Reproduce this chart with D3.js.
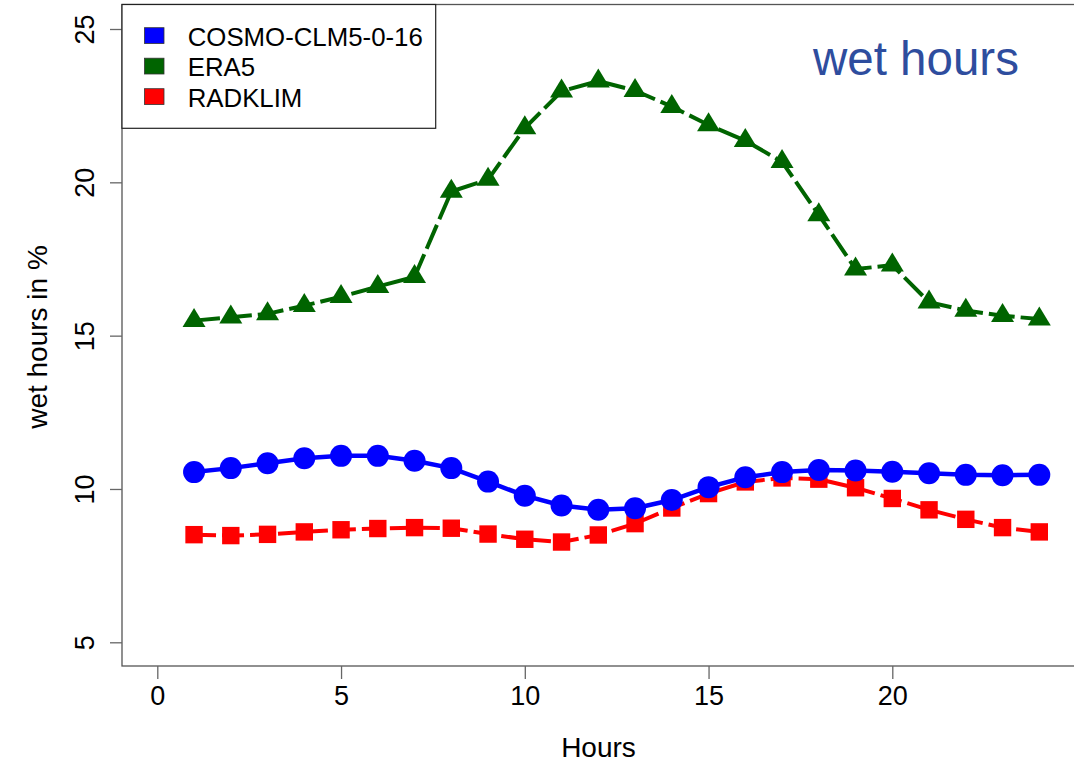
<!DOCTYPE html>
<html><head><meta charset="utf-8">
<script src="https://cdn.jsdelivr.net/npm/d3@7"></script>
<style>body{margin:0;background:#fff}svg{display:block;font-family:"Liberation Sans",Arial,sans-serif}</style>
</head><body>
<script>
const hours = [1,2,3,4,5,6,7,8,9,10,11,12,13,14,15,16,17,18,19,20,21,22,23,24];
const cosmo = [10.55,10.68,10.84,11.0,11.08,11.08,10.92,10.68,10.24,9.78,9.46,9.32,9.37,9.64,10.06,10.38,10.55,10.62,10.60,10.56,10.51,10.46,10.45,10.46];
const era5 = [15.49,15.60,15.71,15.98,16.27,16.60,16.92,19.70,20.09,21.77,22.97,23.30,22.99,22.47,21.87,21.36,20.67,18.94,17.17,17.30,16.09,15.82,15.65,15.54];
const radklim = [8.51,8.48,8.52,8.60,8.67,8.71,8.74,8.72,8.53,8.36,8.27,8.50,8.87,9.38,9.85,10.23,10.36,10.32,10.04,9.69,9.32,9.01,8.74,8.60];
const xTicks = [0,5,10,15,20];
const yTicks = [5,10,15,20,25];
const seriesNames = ["COSMO-CLM5-0-16","ERA5","RADKLIM"];
const seriesColors = ["#0000FF","#006400","#FF0000"];

const W = 1074, H = 763;
const svg = d3.select("body").append("svg").attr("width", W).attr("height", H);
const x = d3.scaleLinear().domain([0,20]).range([157.3, 892.3]);
const y = d3.scaleLinear().domain([5,25]).range([642.3, 29]);

// frame
svg.append("rect").attr("x",122).attr("y",4.5).attr("width",1000).attr("height",661.5)
  .attr("fill","none").attr("stroke","#555").attr("stroke-width",1.3);

// x axis
const xa = svg.append("g").attr("transform","translate(0,666)")
  .call(d3.axisBottom(x).tickValues(xTicks).tickSize(13).tickSizeOuter(0).tickPadding(7).tickFormat(d3.format("d")));
xa.select(".domain").remove();
xa.selectAll("line").attr("stroke","#666").attr("stroke-width",1.3);
xa.selectAll("text").attr("font-size",27).attr("fill","#000").attr("font-family","Liberation Sans, Arial, sans-serif");

// y axis
const ya = svg.append("g").attr("transform","translate(122,0)")
  .call(d3.axisLeft(y).tickValues(yTicks).tickSize(12).tickSizeOuter(0).tickFormat(d3.format("d")));
ya.select(".domain").remove();
ya.selectAll("line").attr("stroke","#666").attr("stroke-width",1.3);
ya.selectAll("text").attr("font-size",27).attr("fill","#000").attr("font-family","Liberation Sans, Arial, sans-serif")
  .attr("text-anchor","middle").attr("dy",null).attr("x",null)
  .attr("transform","translate(-28,0) rotate(-90)");

// axis labels
svg.append("text").attr("x",598.5).attr("y",756.5).attr("text-anchor","middle").attr("font-size",28).text("Hours");
svg.append("text").attr("transform","translate(47,337) rotate(-90)").attr("text-anchor","middle").attr("font-size",28).text("wet hours in %");

// title
svg.append("text").attr("x",813).attr("y",75).attr("font-size",47.5).attr("fill","#2E4D9E").text("wet hours");

const line = d3.line().x((d,i)=>x(hours[i])).y(d=>y(d));

// ERA5
svg.append("path").datum(era5).attr("d",line).attr("fill","none").attr("stroke",seriesColors[1]).attr("stroke-width",4).attr("stroke-dasharray","26,6");
svg.append("g").selectAll("path").data(era5).join("path")
  .attr("d", "M0,-12.7 L11.5,6.3 L-11.5,6.3 Z")
  .attr("transform",(d,i)=>`translate(${x(hours[i])},${y(d)})`).attr("fill",seriesColors[1]);

// RADKLIM
svg.append("path").datum(radklim).attr("d",line).attr("fill","none").attr("stroke",seriesColors[2]).attr("stroke-width",4).attr("stroke-dasharray","22,6");
svg.append("g").selectAll("rect").data(radklim).join("rect")
  .attr("x",(d,i)=>x(hours[i])-8.7).attr("y",d=>y(d)-8.7).attr("width",17.4).attr("height",17.4).attr("fill",seriesColors[2]);

// COSMO
svg.append("path").datum(cosmo).attr("d",line).attr("fill","none").attr("stroke",seriesColors[0]).attr("stroke-width",4.5);
svg.append("g").selectAll("circle").data(cosmo).join("circle")
  .attr("cx",(d,i)=>x(hours[i])).attr("cy",d=>y(d)).attr("r",11).attr("fill",seriesColors[0]);

// legend
const lg = svg.append("g");
lg.append("rect").attr("x",122).attr("y",4.5).attr("width",313.7).attr("height",123.8).attr("fill","#fff").attr("stroke","#222").attr("stroke-width",1.2);
seriesNames.forEach((n,i)=>{
  const by = 45.7 + i*30.5;
  lg.append("rect").attr("x",144.5).attr("y",by-18).attr("width",19.5).attr("height",15.8).attr("fill",seriesColors[i]).attr("stroke","#333").attr("stroke-width",0.8);
  lg.append("text").attr("x",187.7).attr("y",by).attr("font-size",25.8).attr("fill","#000").text(n);
});
</script>
</body></html>
